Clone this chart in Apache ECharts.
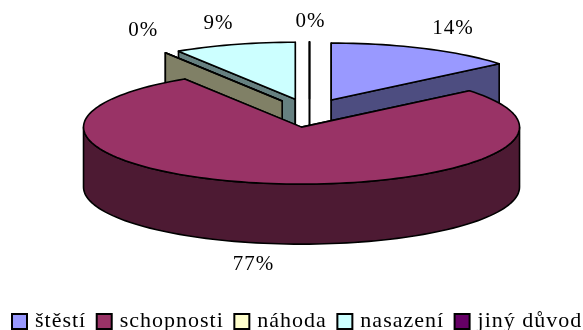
<!DOCTYPE html>
<html>
<head>
<meta charset="utf-8">
<style>html,body{margin:0;padding:0;background:#fff}#chart{width:583px;height:330px}</style>
<script src="https://cdn.jsdelivr.net/npm/echarts@6/dist/echarts.min.js"></script>
</head>
<body>
<div id="chart"></div>
<script>
// Exploded 3D-style pie, drawn with one custom series per slice.
const categories = ['štěstí', 'schopnosti', 'náhoda', 'nasazení', 'jiný důvod'];
const values = [14, 77, 0, 9, 0];

const topColors = ['#9999FF', '#993366', '#FFFFCC', '#CCFFFF', '#660066'];
const sideColors = ['#4D4D80', '#4D1A33', '#808066', '#668080', '#330033'];
const paintOrder = [4, 3, 2, 0, 1];
const labelOffsets = [[29, -20], [-14, 21], [-22, -22], [-16, -21], [1, -20]];

const pie = { cx: 309.5, cy: 113, rx: 218, ry: 57, depth: 60, explodeX: 51, explodeY: 14.3 };
const font = 'Liberation Serif, Times New Roman, serif';
const total = values.reduce((a, b) => a + b, 0);
const toRad = d => d * Math.PI / 180;

// Give all canvas text a slightly wider tracking, for drawing and for measuring.
const nativeGetContext = HTMLCanvasElement.prototype.getContext;
HTMLCanvasElement.prototype.getContext = function (type, opts) {
  const ctx = nativeGetContext.call(this, type, opts);
  if (type === '2d' && ctx) ctx.letterSpacing = '1px';
  return ctx;
};

// Clockwise angles from twelve o'clock, accumulated from the values.
const spans = [];
values.reduce((start, v) => {
  const end = start + v / total * 360;
  spans.push([start, end]);
  return end;
}, 0);

function rim(apex, deg) {
  return [apex[0] + pie.rx * Math.sin(toRad(deg)), apex[1] - pie.ry * Math.cos(toRad(deg))];
}
function arc(apex, from, to) {
  const n = Math.max(1, Math.ceil(Math.abs(to - from) / 2));
  const pts = [];
  for (let i = 0; i <= n; i++) pts.push(rim(apex, from + (to - from) * i / n));
  return pts;
}
const drop = p => [p[0], p[1] + pie.depth];

function renderSlice(index) {
  return function () {
    const [a0, a1] = spans[index];
    const mid = (a0 + a1) / 2;
    const apex = [
      pie.cx + pie.explodeX * Math.sin(toRad(mid)),
      pie.cy - pie.explodeY * Math.cos(toRad(mid))
    ];
    const line = { stroke: '#000', lineWidth: 1.6, lineJoin: 'round' };
    const side = Object.assign({ fill: sideColors[index] }, line);
    const top = Object.assign({ fill: topColors[index] }, line);
    const wall = deg => {
      const p = rim(apex, deg);
      return { type: 'polygon', shape: { points: [apex, p, drop(p), drop(apex)] }, style: side };
    };
    const children = [wall(a0), wall(a1)];

    // Outer wall, only where the rim faces the viewer.
    const f0 = Math.max(a0, 90), f1 = Math.min(a1, 270);
    if (f1 > f0) {
      const upper = arc(apex, f0, f1);
      children.push({
        type: 'polygon',
        shape: { points: upper.concat(upper.map(drop).reverse()) },
        style: side
      });
    }
    children.push({
      type: 'polygon',
      shape: { points: [apex].concat(arc(apex, a0, a1)) },
      style: top
    });

    // Percentage label next to the middle of the slice's rim.
    let anchor = rim(apex, mid);
    if (mid > 90 && mid < 270) anchor = drop(anchor);
    children.push({
      type: 'text',
      style: {
        text: values[index] + '%',
        x: anchor[0] + labelOffsets[index][0],
        y: anchor[1] + labelOffsets[index][1],
        fill: '#000',
        font: '21px ' + font,
        align: 'center',
        verticalAlign: 'middle'
      }
    });
    return { type: 'group', children };
  };
}

const chart = echarts.init(document.getElementById('chart'), null, { renderer: 'canvas' });
chart.setOption({
  animation: false,
  backgroundColor: '#fff',
  legend: {
    data: categories.map(name => ({ name, icon: 'rect' })),
    left: 11,
    top: 310,
    width: 620,
    padding: 0,
    itemWidth: 15,
    itemHeight: 15,
    itemGap: 9.5,
    selectedMode: false,
    textStyle: { fontFamily: font, fontSize: 22, color: '#000', padding: [0, 0, 0, 3] }
  },
  series: categories.map((name, i) => ({
    type: 'custom',
    name,
    coordinateSystem: 'none',
    z: 2 + paintOrder.indexOf(i),
    itemStyle: { color: topColors[i], borderColor: '#000', borderWidth: 1.6 },
    silent: true,
    renderItem: renderSlice(i),
    data: [[values[i]]]
  }))
});
</script>
</body>
</html>
